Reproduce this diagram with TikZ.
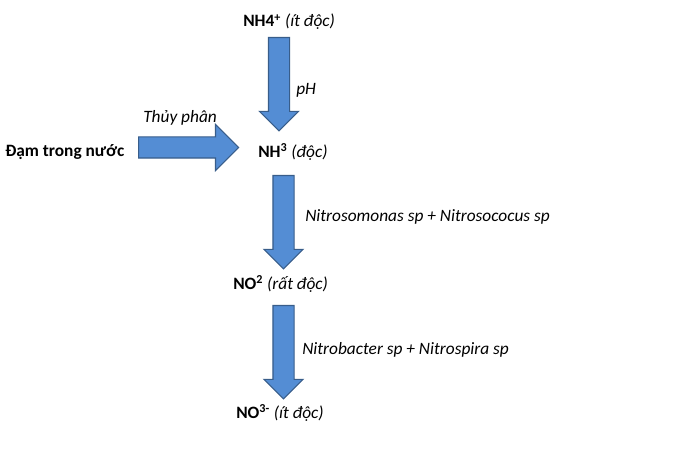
\documentclass[tikz,border=0pt]{standalone}
\usepackage{fontspec}
\setmainfont{Carlito}
\usepackage{tikz}
\usetikzlibrary{positioning, shapes.arrows, calc}
\definecolor{arrowblue}{RGB}{84,141,212}
\definecolor{arrowedge}{RGB}{56,93,138}

\begin{document}
\begin{tikzpicture}[x=0.75pt, y=-0.75pt, font=\fontsize{13}{15}\selectfont,
label/.style={inner sep=0pt, anchor=west},
species/.style={inner sep=0pt, anchor=west, font=\fontsize{13}{15}\selectfont\bfseries},
blockarrow/.style={single arrow, draw=arrowedge, fill=arrowblue, line width=0.8pt,
  inner xsep=0pt, inner ysep=7.5pt, single arrow head indent=0pt, single arrow head extend=6.75pt,
  minimum height=70pt, rotate=-90, anchor=tail}
]
\useasboundingbox (0,0) rectangle (682,463);

% NH4+
\node[species] (nh4) at (243,22) {NH4\textsuperscript{+} \textit{\mdseries(ít độc)}};

% pH step
\node[blockarrow] (arrow1) at (279,37) {};
\node[label] (ph) at (296,90) {\textit{pH}};

% Dam trong nuoc
\node[species] (dam) at (5,152) {Đạm trong nước};
\node[blockarrow, rotate=90, minimum height=75pt,
  single arrow head extend=9.4pt] (arrow0) at (138,147.5) {};
\node[label] (thuyphan) at (143,118) {\textit{Thủy phân}};

% NH3
\node[species] (nh3) at (258,152) {NH\textsuperscript{3} \textit{\mdseries(độc)}};

% Nitrosomonas step
\node[blockarrow] (arrow2) at (283.5,175) {};
\node[label] (nitroso) at (305,217) {\textit{Nitrosomonas sp + Nitrosococus sp}};

% NO2
\node[species] (no2) at (233,284) {NO\textsuperscript{2} \textit{\mdseries(rất độc)}};

% Nitrobacter step
\node[blockarrow] (arrow3) at (283.5,305) {};
\node[label] (nitrob) at (302,350) {\textit{Nitrobacter sp + Nitrospira sp}};

% NO3-
\node[species] (no3) at (236,413) {NO\textsuperscript{3-} \textit{\mdseries(ít độc)}};

\end{tikzpicture}
\end{document}
